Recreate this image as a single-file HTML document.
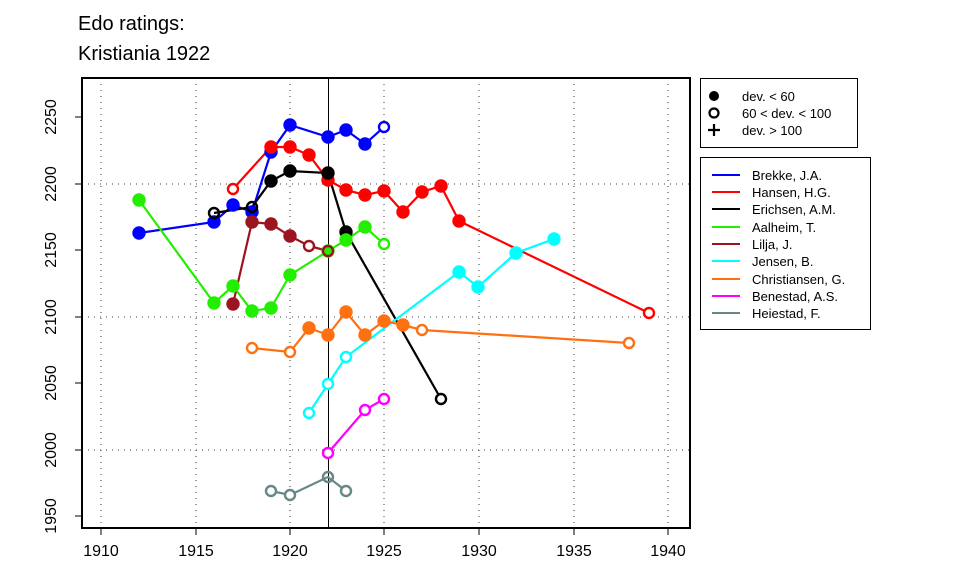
<!DOCTYPE html><html><head><style>body{margin:0;background:#fff}svg{display:block;font-family:"Liberation Sans",sans-serif}</style></head><body>
<svg width="960" height="576" xmlns="http://www.w3.org/2000/svg">
<text x="78" y="30" font-size="20">Edo ratings:</text>
<text x="78" y="60" font-size="20">Kristiania 1922</text>
<g stroke="#666" stroke-dasharray="1,5" stroke-width="1.3">
<line x1="101" y1="78" x2="101" y2="528"/><line x1="196" y1="78" x2="196" y2="528"/><line x1="290" y1="78" x2="290" y2="528"/><line x1="384" y1="78" x2="384" y2="528"/><line x1="479" y1="78" x2="479" y2="528"/><line x1="574" y1="78" x2="574" y2="528"/><line x1="668" y1="78" x2="668" y2="528"/>
<line x1="82" y1="184" x2="690" y2="184"/><line x1="82" y1="317" x2="690" y2="317"/><line x1="82" y1="450" x2="690" y2="450"/>
</g>
<line x1="328.5" y1="78" x2="328.5" y2="528" stroke="#000" stroke-width="1"/>
<g fill="none" stroke-width="2.2">
<polyline stroke="#0000ff" points="139,233 214,222 233,205 252,212 271,152 290,125 328,137 346,130 365,144 384,127"/>
<polyline stroke="#ff0000" points="233,189 271,147 290,147 309,155 328,180 346,190 365,195 384,191 403,212 422,192 441,186 459,221 649,313"/>
<polyline stroke="#000" points="214,213 252,207 271,181 290,171 328,173 346,232 441,399"/>
<polyline stroke="#22ee00" points="139,200 214,303 233,286 252,311 271,308 290,275 328,251 346,240 365,227 384,244"/>
<polyline stroke="#9b1420" points="233,304 252,222 271,224 290,236 309,246 328,251"/>
<polyline stroke="#00ffff" points="309,413 328,384 346,357 459,272 478,287 516,253 554,239"/>
<polyline stroke="#ff7010" points="252,348 290,352 309,328 328,335 346,312 365,335 384,321 403,325 422,330 629,343"/>
<polyline stroke="#ff00ff" points="328,453 365,410 384,399"/>
<polyline stroke="#688888" points="271,491 290,495 328,477 346,491"/>
</g>
<g stroke-width="2.4">
<g fill="#0000ff" stroke="#0000ff"><circle cx="139" cy="233" r="5.5"/><circle cx="214" cy="222" r="5.5"/><circle cx="233" cy="205" r="5.5"/><circle cx="252" cy="212" r="5.5"/><circle cx="271" cy="152" r="5.5"/><circle cx="290" cy="125" r="5.5"/><circle cx="328" cy="137" r="5.5"/><circle cx="346" cy="130" r="5.5"/><circle cx="365" cy="144" r="5.5"/><circle cx="384" cy="127" r="5" fill="#fff"/></g>
<g fill="#ff0000" stroke="#ff0000"><circle cx="233" cy="189" r="5" fill="#fff"/><circle cx="271" cy="147" r="5.5"/><circle cx="290" cy="147" r="5.5"/><circle cx="309" cy="155" r="5.5"/><circle cx="328" cy="180" r="5.5"/><circle cx="346" cy="190" r="5.5"/><circle cx="365" cy="195" r="5.5"/><circle cx="384" cy="191" r="5.5"/><circle cx="403" cy="212" r="5.5"/><circle cx="422" cy="192" r="5.5"/><circle cx="441" cy="186" r="5.5"/><circle cx="459" cy="221" r="5.5"/><circle cx="649" cy="313" r="5" fill="#fff"/></g>
<g fill="#000" stroke="#000"><circle cx="214" cy="213" r="5" fill="none"/><circle cx="252" cy="207" r="5" fill="none"/><circle cx="271" cy="181" r="5.5"/><circle cx="290" cy="171" r="5.5"/><circle cx="328" cy="173" r="5.5"/><circle cx="346" cy="232" r="5.5"/><circle cx="441" cy="399" r="5" fill="#fff"/></g>
<g fill="#22ee00" stroke="#22ee00"><circle cx="139" cy="200" r="5.5"/><circle cx="214" cy="303" r="5.5"/><circle cx="233" cy="286" r="5.5"/><circle cx="252" cy="311" r="5.5"/><circle cx="271" cy="308" r="5.5"/><circle cx="290" cy="275" r="5.5"/><circle cx="328" cy="251" r="5.5"/><circle cx="346" cy="240" r="5.5"/><circle cx="365" cy="227" r="5.5"/><circle cx="384" cy="244" r="5" fill="#fff"/></g>
<g fill="#9b1420" stroke="#9b1420"><circle cx="233" cy="304" r="5.5"/><circle cx="252" cy="222" r="5.5"/><circle cx="271" cy="224" r="5.5"/><circle cx="290" cy="236" r="5.5"/><circle cx="309" cy="246" r="5" fill="#fff"/><circle cx="328" cy="251" r="5" fill="none"/></g>
<g fill="#00ffff" stroke="#00ffff"><circle cx="309" cy="413" r="5" fill="#fff"/><circle cx="328" cy="384" r="5" fill="#fff"/><circle cx="346" cy="357" r="5" fill="#fff"/><circle cx="459" cy="272" r="5.5"/><circle cx="478" cy="287" r="5.5"/><circle cx="516" cy="253" r="5.5"/><circle cx="554" cy="239" r="5.5"/></g>
<g fill="#ff7010" stroke="#ff7010"><circle cx="252" cy="348" r="5" fill="#fff"/><circle cx="290" cy="352" r="5" fill="#fff"/><circle cx="309" cy="328" r="5.5"/><circle cx="328" cy="335" r="5.5"/><circle cx="346" cy="312" r="5.5"/><circle cx="365" cy="335" r="5.5"/><circle cx="384" cy="321" r="5.5"/><circle cx="403" cy="325" r="5.5"/><circle cx="422" cy="330" r="5" fill="#fff"/><circle cx="629" cy="343" r="5" fill="#fff"/></g>
<g fill="#fff" stroke="#ff00ff"><circle cx="328" cy="453" r="5"/><circle cx="365" cy="410" r="5"/><circle cx="384" cy="399" r="5"/></g>
<g fill="#fff" stroke="#688888"><circle cx="271" cy="491" r="5"/><circle cx="290" cy="495" r="5"/><circle cx="328" cy="477" r="5" fill="none"/><circle cx="346" cy="491" r="5"/></g>
</g>
<rect x="82" y="78" width="608" height="450" fill="none" stroke="#000" stroke-width="2"/>
<g stroke="#000" stroke-width="1">
<line x1="101" y1="528" x2="101" y2="535"/><line x1="196" y1="528" x2="196" y2="535"/><line x1="290" y1="528" x2="290" y2="535"/><line x1="384" y1="528" x2="384" y2="535"/><line x1="479" y1="528" x2="479" y2="535"/><line x1="574" y1="528" x2="574" y2="535"/><line x1="668" y1="528" x2="668" y2="535"/>
<line x1="75" y1="117" x2="82" y2="117"/><line x1="75" y1="184" x2="82" y2="184"/><line x1="75" y1="250" x2="82" y2="250"/><line x1="75" y1="317" x2="82" y2="317"/><line x1="75" y1="383" x2="82" y2="383"/><line x1="75" y1="450" x2="82" y2="450"/><line x1="75" y1="516" x2="82" y2="516"/>
</g>
<g font-size="16" text-anchor="middle">
<text x="101" y="556">1910</text><text x="196" y="556">1915</text><text x="290" y="556">1920</text><text x="384" y="556">1925</text><text x="479" y="556">1930</text><text x="574" y="556">1935</text><text x="668" y="556">1940</text>
<text transform="translate(56,117) rotate(-90)">2250</text><text transform="translate(56,184) rotate(-90)">2200</text><text transform="translate(56,250) rotate(-90)">2150</text><text transform="translate(56,317) rotate(-90)">2100</text><text transform="translate(56,383) rotate(-90)">2050</text><text transform="translate(56,450) rotate(-90)">2000</text><text transform="translate(56,516) rotate(-90)">1950</text>
</g>
<rect x="700.5" y="78.5" width="157" height="69" fill="#fff" stroke="#000"/>
<circle cx="714" cy="96" r="5"/><circle cx="714" cy="113" r="4.5" fill="none" stroke="#000" stroke-width="2.2"/>
<path d="M708 130h12M714 124v12" stroke="#000" stroke-width="2.2"/>
<g font-size="13"><text x="742" y="101">dev. &lt; 60</text><text x="742" y="118">60 &lt; dev. &lt; 100</text><text x="742" y="135">dev. &gt; 100</text></g>
<rect x="700.5" y="157.5" width="170" height="172" fill="#fff" stroke="#000"/>
<g stroke-width="2">
<line x1="712" y1="175" x2="740" y2="175" stroke="#0000ff"/><line x1="712" y1="192" x2="740" y2="192" stroke="#ff0000"/><line x1="712" y1="209" x2="740" y2="209" stroke="#000"/><line x1="712" y1="227" x2="740" y2="227" stroke="#22ee00"/><line x1="712" y1="244" x2="740" y2="244" stroke="#9b1420"/><line x1="712" y1="261" x2="740" y2="261" stroke="#00ffff"/><line x1="712" y1="279" x2="740" y2="279" stroke="#ff7010"/><line x1="712" y1="296" x2="740" y2="296" stroke="#ff00ff"/><line x1="712" y1="313" x2="740" y2="313" stroke="#688888"/>
</g>
<g font-size="13">
<text x="752" y="180">Brekke, J.A.</text><text x="752" y="197">Hansen, H.G.</text><text x="752" y="214">Erichsen, A.M.</text><text x="752" y="232">Aalheim, T.</text><text x="752" y="249">Lilja, J.</text><text x="752" y="266">Jensen, B.</text><text x="752" y="284">Christiansen, G.</text><text x="752" y="301">Benestad, A.S.</text><text x="752" y="318">Heiestad, F.</text>
</g>
</svg>
</body></html>
